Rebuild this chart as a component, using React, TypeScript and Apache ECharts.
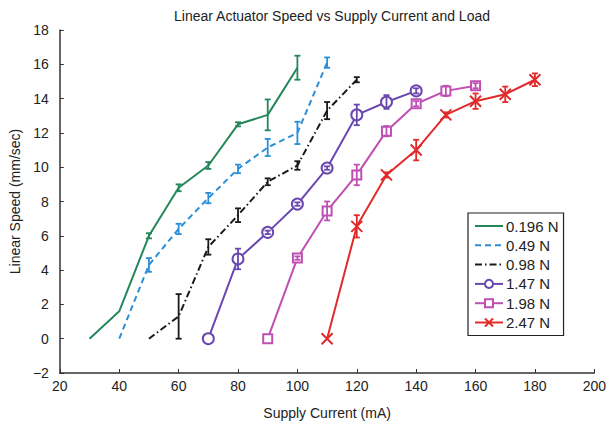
import React, { useEffect, useRef } from "react";
import * as echarts from "echarts";

const seriesNames = ["0.196 N", "0.49 N", "0.98 N", "1.47 N", "1.98 N", "2.47 N"];
const colors = ["#23875a", "#2a8fd8", "#1a1a1a", "#6a48b0", "#c04fb4", "#e22a2a"];

const x0196 = [30, 40, 50, 60, 70, 80, 90, 100];
const y0196 = [0, 1.6, 6.0, 8.8, 10.1, 12.5, 13.05, 15.8];
const e0196 = [0, 0, 0.15, 0.2, 0.2, 0.12, 0.9, 0.7];

const x049 = [40, 50, 60, 70, 80, 90, 100, 110];
const y049 = [0, 4.3, 6.4, 8.2, 9.9, 11.15, 12.0, 16.1];
const e049 = [0, 0.4, 0.3, 0.3, 0.25, 0.5, 0.65, 0.3];

const x098 = [50, 60, 70, 80, 90, 100, 110, 120];
const y098 = [0, 1.3, 5.35, 7.2, 9.15, 10.1, 13.3, 15.1];
const e098 = [0, 1.3, 0.45, 0.4, 0.2, 0.25, 0.5, 0.15];

const x147 = [70, 80, 90, 100, 110, 120, 130, 140];
const y147 = [0, 4.65, 6.2, 7.85, 9.95, 13.05, 13.8, 14.45];
const e147 = [0, 0.6, 0.1, 0.1, 0.1, 0.6, 0.4, 0.15];

const x198 = [90, 100, 110, 120, 130, 140, 150, 160];
const y198 = [0, 4.7, 7.45, 9.55, 12.1, 13.7, 14.45, 14.75];
const e198 = [0, 0.1, 0.55, 0.6, 0.3, 0.15, 0.3, 0.15];

const x247 = [110, 120, 130, 140, 150, 160, 170, 180];
const y247 = [0, 6.55, 9.55, 11.0, 13.05, 13.85, 14.25, 15.1];
const e247 = [0, 0.65, 0.15, 0.6, 0.15, 0.45, 0.45, 0.37];

const xsAll = [x0196, x049, x098, x147, x198, x247];
const ysAll = [y0196, y049, y098, y147, y198, y247];
const esAll = [e0196, e049, e098, e147, e198, e247];

const symbols = ["circle", "circle", "circle", "emptyCircle", "emptyRect", "path://M0,0L10,10M10,0L0,10"];
const hasMarker = [false, false, false, true, true, true];
const symbolSizes = [0, 0, 0, 11, 9, 11];
const lineTypes: any[] = ["solid", [6, 4], [7, 3, 1.5, 3], "solid", "solid", "solid"];

const FONT = "Liberation Sans, Arial, Helvetica, sans-serif";

export default function App() {
  const ref = useRef<HTMLDivElement>(null);
  useEffect(() => {
    if (!ref.current) return;
    const chart = echarts.init(ref.current, undefined, { renderer: "svg" });
    const series: any[] = [];
    seriesNames.forEach((name, i) => {
      const data = xsAll[i].map((x, j) => [x, ysAll[i][j]]);
      series.push({
        name,
        type: "line",
        data,
        symbol: symbols[i],
        symbolSize: symbolSizes[i],
        showSymbol: hasMarker[i],
        lineStyle: { color: colors[i], width: 2, type: lineTypes[i] },
        itemStyle: hasMarker[i]
          ? { color: colors[i], borderColor: colors[i], borderWidth: i === 5 ? 2 : 1.8 }
          : { color: "rgba(0,0,0,0)", borderColor: "rgba(0,0,0,0)", borderWidth: 0 },
        emphasis: { disabled: true },
        z: 3,
      });
      const errData = xsAll[i]
        .map((x, j) => [x, ysAll[i][j] - esAll[i][j], ysAll[i][j] + esAll[i][j], esAll[i][j]])
        .filter((d) => d[3] > 0);
      const col = colors[i];
      series.push({
        name: name + " err",
        type: "custom",
        data: errData,
        encode: { x: 0, y: [1, 2] },
        z: 4,
        renderItem: (params: any, api: any) => {
          const x = api.value(0);
          const lo = api.value(1);
          const hi = api.value(2);
          const p1 = api.coord([x, hi]);
          const p2 = api.coord([x, lo]);
          const w = 3;
          const st = { stroke: col, lineWidth: 1.8 };
          return {
            type: "group",
            children: [
              { type: "line", shape: { x1: p1[0], y1: p1[1], x2: p2[0], y2: p2[1] }, style: st },
              { type: "line", shape: { x1: p1[0] - w, y1: p1[1], x2: p1[0] + w, y2: p1[1] }, style: st },
              { type: "line", shape: { x1: p2[0] - w, y1: p2[1], x2: p2[0] + w, y2: p2[1] }, style: st },
            ],
          };
        },
      });
    });

    chart.setOption({
      animation: false,
      backgroundColor: "#fff",
      title: {
        text: "Linear Actuator Speed vs Supply Current and Load",
        left: 327,
        textAlign: "center",
        top: 4,
        textStyle: { fontFamily: FONT, fontSize: 14, fontWeight: "normal", color: "#222" },
      },
      grid: { left: 58, right: 12, top: 30, bottom: 46 },
      legend: {
        data: seriesNames,
        orient: "vertical",
        left: 468,
        top: 213,
        itemWidth: 28,
        itemHeight: 10,
        itemGap: 4.3,
        borderColor: "#222",
        borderWidth: 1.2,
        borderRadius: 0,
        padding: [5.5, 5, 5.5, 6],
        selectedMode: false,
        textStyle: { fontFamily: FONT, fontSize: 15, color: "#222", padding: [0, 0, 0, -2] },
      },
      xAxis: {
        type: "value",
        min: 20,
        max: 200,
        interval: 20,
        name: "Supply Current (mA)",
        nameLocation: "middle",
        nameGap: 33,
        nameTextStyle: { fontFamily: FONT, fontSize: 14, color: "#222" },
        axisLine: { onZero: false, lineStyle: { color: "#333", width: 1.5 } },
        axisTick: { inside: true, length: 4, lineStyle: { color: "#333" } },
        axisLabel: { fontFamily: FONT, fontSize: 14, color: "#222", margin: 6 },
        splitLine: { show: false },
      },
      yAxis: {
        type: "value",
        min: -2,
        max: 18,
        interval: 2,
        name: "Linear Speed (mm/sec)",
        nameLocation: "middle",
        nameGap: 33,
        nameTextStyle: { fontFamily: FONT, fontSize: 14, color: "#222" },
        axisLine: { show: true, onZero: false, lineStyle: { color: "#333", width: 1.5 } },
        axisTick: { show: true, inside: true, length: 4, lineStyle: { color: "#333" } },
        axisLabel: {
          fontFamily: FONT,
          fontSize: 14,
          color: "#222",
          margin: 11,
          formatter: (v: number) => String(v).replace("-", "\u2212"),
        },
        splitLine: { show: false },
      },
      series,
    });
    return () => chart.dispose();
  }, []);
  return <div ref={ref} style={{ width: 609, height: 425, position: "absolute", left: 0, top: 0 }} />;
}
